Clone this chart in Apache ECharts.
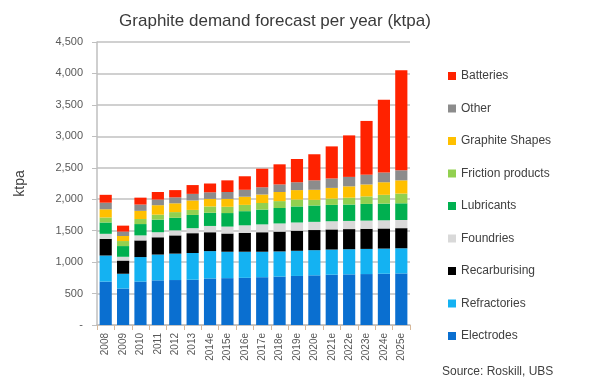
<!DOCTYPE html>
<html><head><meta charset="utf-8">
<script src="https://cdn.jsdelivr.net/npm/echarts@6/dist/echarts.min.js"></script>
<style>html,body{margin:0;padding:0;background:#fff}#c{width:591px;height:386px}</style>
</head><body><div id="c"></div>
<script>
var categories = ['2008','2009','2010','2011','2012','2013','2014e','2015e','2016e','2017e','2018e','2019e','2020e','2021e','2022e','2023e','2024e','2025e'];
var electrodes   = [690,580,690,710,715,720,740,745,750,760,770,780,790,800,805,810,815,820];
var refractories = [415,235,390,410,420,425,435,420,415,405,400,400,400,400,400,400,400,400];
var recarburising= [265,210,265,275,290,315,300,290,300,310,315,320,320,320,320,320,320,320];
var foundries    = [80,60,80,80,80,80,100,110,120,125,130,130,130,130,130,130,130,130];
var lubricants   = [180,170,180,200,200,210,210,215,225,235,245,255,260,260,260,265,265,265];
var friction     = [80,80,80,80,90,80,100,100,100,105,110,110,90,100,110,120,140,155];
var shapes       = [130,80,130,150,140,150,120,125,130,135,145,150,160,170,180,190,200,210];
var other        = [105,70,100,90,95,105,105,110,110,115,120,125,150,150,150,155,155,160];
var batteries    = [125,95,110,120,115,140,140,185,215,295,320,370,415,510,660,855,1155,1590];
var yTicks = {min:0, max:4500, interval:500};

var seriesDefs = [
  ['Electrodes', electrodes, '#0a6fd0'],
  ['Refractories', refractories, '#14b2f2'],
  ['Recarburising', recarburising, '#000000'],
  ['Foundries', foundries, '#d9d9d9'],
  ['Lubricants', lubricants, '#00b050'],
  ['Friction products', friction, '#92d050'],
  ['Graphite Shapes', shapes, '#ffc000'],
  ['Other', other, '#8c8c8c'],
  ['Batteries', batteries, '#ff2200']
];
var series = seriesDefs.map(function(d){
  return {name:d[0], type:'bar', stack:'t', data:d[1], itemStyle:{color:d[2]}, barCategoryGap:'30%'};
});
var chart = echarts.init(document.getElementById('c'));
chart.setOption({
  animation:false,
  backgroundColor:'#ffffff',
  textStyle:{fontFamily:'Liberation Sans, Arial, sans-serif'},
  title:{text:'Graphite demand forecast per year (ktpa)', left:270, textAlign:'center', top:8,
    textStyle:{fontSize:17, fontWeight:'normal', color:'#3a3a3a'}},
  grid:{left:97, right:181, top:42, bottom:61},
  legend:{orient:'vertical', left:443, top:65, itemWidth:8, itemHeight:8, itemGap:20.5,
    icon:'rect', textStyle:{fontSize:12, color:'#404040'},
    data:['Batteries','Other','Graphite Shapes','Friction products','Lubricants','Foundries','Recarburising','Refractories','Electrodes']},
  graphic:[{type:'text', left:442, top:366, style:{text:'Source: Roskill, UBS', fontSize:12, fill:'#404040', fontFamily:'Liberation Sans, Arial, sans-serif'}}],
  xAxis:{type:'category', data:categories,
    axisLine:{lineStyle:{color:'#bfbfbf', width:1.5}},
    axisTick:{show:true, alignWithLabel:false, lineStyle:{color:'#d8b99a'}},
    axisLabel:{rotate:90, fontSize:10, color:'#595959', interval:0, margin:8}},
  yAxis:{type:'value', min:yTicks.min, max:yTicks.max, interval:yTicks.interval,
    name:'ktpa', nameLocation:'middle', nameGap:70, nameTextStyle:{fontSize:14, color:'#404040'},
    axisLine:{show:true, lineStyle:{color:'#bfbfbf', width:1.5}},
    axisTick:{show:true, lineStyle:{color:'#bfbfbf'}},
    splitLine:{lineStyle:{color:'#c0c0c0', width:1.5}},
    axisLabel:{fontSize:11, color:'#595959', margin:14, formatter:function(v){return v===0?'-':v.toLocaleString('en-US');}}},
  series:series
});
</script></body></html>
